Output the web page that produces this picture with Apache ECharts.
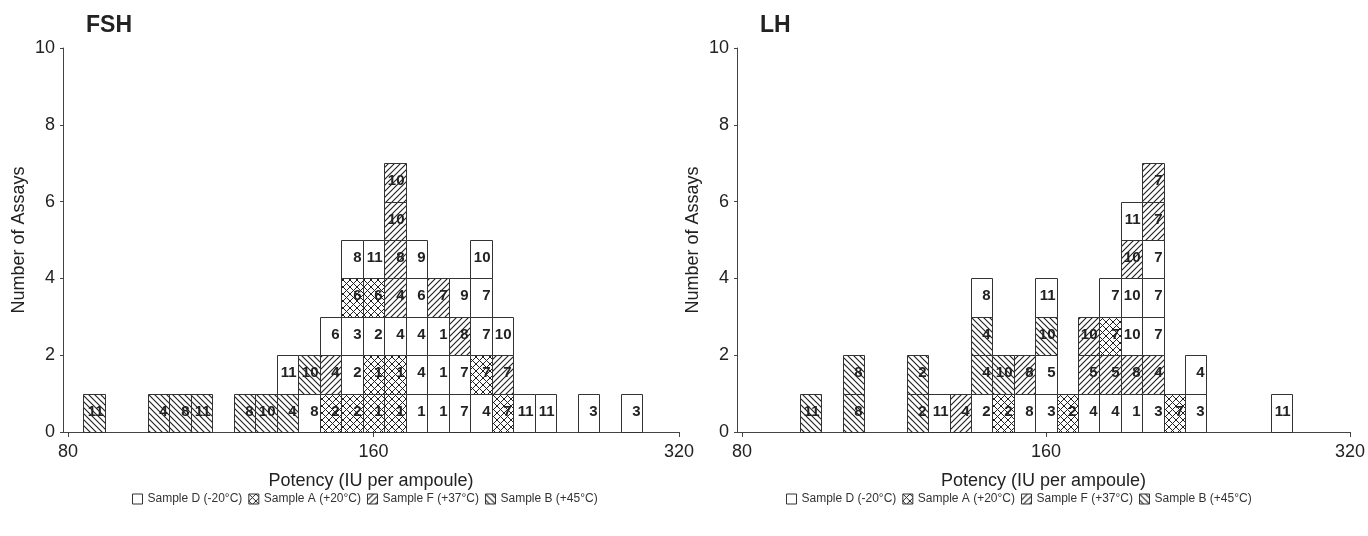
<!DOCTYPE html>
<html>
<head>
<meta charset="utf-8">
<script src="https://cdn.jsdelivr.net/npm/echarts@6/dist/echarts.min.js"></script>
<style>
html,body{margin:0;padding:0;background:#fff;}
#chart{width:1368px;height:536px;}
</style>
</head>
<body>
<div id="chart"></div>
<script>
// ---------- data ----------
const SAMPLE_CODES = ['D', 'A', 'F', 'B'];
const SAMPLE_NAMES = ['Sample D (-20°C)', 'Sample A (+20°C)', 'Sample F (+37°C)', 'Sample B (+45°C)'];
const X_TICKS = [80, 160, 320];          // IU per ampoule
const Y_MAX = 10;
const BIN_RATIO = 1.05;                  // width of a potency bin (ratio)
const FIRST_EDGE = 82.8;                 // lower edge of bin 0 (IU per ampoule)

// FSH: bin index and stacked assays (bottom -> top), code = sample + assay number
const FSH_BINS = [0, 3, 4, 5, 7, 8, 9, 10, 11, 12, 13, 14, 15, 16, 17, 18, 19, 20, 21, 23, 25];
const FSH_STACKS = [
  ['B11'], ['B4'], ['B8'], ['B11'], ['B8'], ['B10'], ['B4', 'D11'], ['D8', 'B10'],
  ['A2', 'F4', 'D6'], ['A2', 'D2', 'D3', 'A6', 'D8'], ['A1', 'A1', 'D2', 'A6', 'D11'],
  ['A1', 'A1', 'D4', 'F4', 'F8', 'F10', 'F10'], ['D1', 'D4', 'D4', 'D6', 'D9'],
  ['D1', 'D1', 'D1', 'F7'], ['D7', 'D7', 'F8', 'D9'], ['D4', 'A7', 'D7', 'D7', 'D10'],
  ['A7', 'F7', 'D10'], ['D11'], ['D11'], ['D3'], ['D3']
];
// LH
const LH_BINS = [2, 4, 7, 8, 9, 10, 11, 12, 13, 14, 15, 16, 17, 18, 19, 20, 24];
const LH_STACKS = [
  ['B11'], ['B8', 'B8'], ['B2', 'B2'], ['D11'], ['F4'], ['D2', 'B4', 'B4', 'D8'],
  ['A2', 'B10'], ['D8', 'F8'], ['D3', 'D5', 'B10', 'D11'], ['A2'], ['D4', 'F5', 'F10'],
  ['D4', 'F5', 'A7', 'D7'], ['D1', 'F8', 'D10', 'D10', 'F10', 'D11'],
  ['D3', 'F4', 'D7', 'D7', 'D7', 'F7', 'F7'], ['A7'], ['D3', 'D4'], ['D11']
];

// ---------- patterns ----------
function makePattern(kind) {
  if (kind === 'D') return '#fff';
  const s = kind === 'A' ? 7 : 6;
  const c = document.createElement('canvas');
  c.width = s; c.height = s;
  const g = c.getContext('2d');
  g.fillStyle = '#fff';
  g.fillRect(0, 0, s, s);
  g.strokeStyle = '#222';
  g.lineWidth = kind === 'A' ? 1.0 : 1.15;
  function fwd() { // "/"
    g.beginPath();
    g.moveTo(-1, s + 1); g.lineTo(s + 1, -1);
    g.moveTo(-1, 1); g.lineTo(1, -1);
    g.moveTo(s - 1, s + 1); g.lineTo(s + 1, s - 1);
    g.stroke();
  }
  function back() { // "\"
    g.beginPath();
    g.moveTo(-1, -1); g.lineTo(s + 1, s + 1);
    g.moveTo(s - 1, -1); g.lineTo(s + 1, 1);
    g.moveTo(-1, s - 1); g.lineTo(1, s + 1);
    g.stroke();
  }
  if (kind === 'F') fwd();
  if (kind === 'B') back();
  if (kind === 'A') { fwd(); back(); }
  return { image: c, repeat: 'repeat' };
}
const FILLS = {};
SAMPLE_CODES.forEach(k => { FILLS[k] = makePattern(k); });

// ---------- helpers ----------
const L2 = v => Math.log(v) / Math.LN2;
const X0 = L2(FIRST_EDGE / X_TICKS[0]);
const BW = L2(BIN_RATIO);
const FONT = "'Liberation Sans', Arial, sans-serif";

function buildSeries(bins, stacks, axisIndex) {
  const out = [];
  SAMPLE_CODES.forEach((code, si) => {
    const data = [];
    const labels = [];
    bins.forEach((bin, i) => {
      stacks[i].forEach((item, level) => {
        if (item[0] === code) {
          data.push([X0 + bin * BW, level, X0 + (bin + 1) * BW]);
          labels.push(item.slice(1));
        }
      });
    });
    out.push({
      type: 'custom',
      name: SAMPLE_NAMES[si],
      xAxisIndex: axisIndex,
      yAxisIndex: axisIndex,
      itemStyle: { color: FILLS[code], borderColor: '#333', borderWidth: 1 },
      data: data,
      renderItem: function (params, api) {
        const a = api.coord([api.value(0), api.value(1)]);
        const b = api.coord([api.value(2), api.value(1) + 1]);
        const x = Math.round(a[0]) + 0.5, x2 = Math.round(b[0]) + 0.5;
        const y = Math.round(b[1]) + 0.5, y2 = Math.round(a[1]) + 0.5;
        return {
          type: 'group',
          children: [
            { type: 'rect', shape: { x: x, y: y, width: x2 - x, height: y2 - y },
              style: { fill: FILLS[code], stroke: '#333', lineWidth: 1 } },
            { type: 'text', style: { text: labels[params.dataIndex], x: x2 - 2, y: (y + y2) / 2 - 2,
              align: 'right', verticalAlign: 'middle', fill: '#222',
              font: 'bold 15px ' + FONT } }
          ]
        };
      }
    });
  });
  return out;
}

const tickPos = X_TICKS.map(t => L2(t / X_TICKS[0]));

function xAxis(gridIndex) {
  return {
    type: 'value', gridIndex: gridIndex,
    min: -0.0164, max: tickPos[tickPos.length - 1],
    name: 'Potency (IU per ampoule)', nameLocation: 'middle', nameGap: 40,
    nameTextStyle: { fontSize: 18, color: '#222', fontFamily: FONT },
    axisLine: { onZero: false, lineStyle: { color: '#444', width: 1 } },
    axisTick: { show: true, length: 5, customValues: tickPos, lineStyle: { color: '#444' } },
    axisLabel: { customValues: tickPos, fontSize: 18, color: '#222', margin: 11, fontFamily: FONT,
      formatter: v => String(Math.round(X_TICKS[0] * Math.pow(2, v))) },
    splitLine: { show: false }
  };
}
function yAxis(gridIndex) {
  return {
    type: 'value', gridIndex: gridIndex, min: 0, max: Y_MAX, interval: 2,
    name: 'Number of Assays', nameLocation: 'middle', nameGap: 35,
    nameTextStyle: { fontSize: 18, color: '#222', fontFamily: FONT },
    axisLine: { show: true, onZero: false, lineStyle: { color: '#444', width: 1 } },
    axisTick: { show: true, length: 3, lineStyle: { color: '#444' } },
    axisLabel: { fontSize: 18, color: '#222', margin: 8, fontFamily: FONT },
    splitLine: { show: false }
  };
}
function legend(left) {
  return {
    left: left, top: 488, itemWidth: 10, itemHeight: 10, itemGap: 6,
    icon: 'rect', selectedMode: false,
    textStyle: { fontSize: 12, color: '#333', fontFamily: FONT },
    data: SAMPLE_NAMES.map((n, i) => ({
      name: n, itemStyle: { color: FILLS[SAMPLE_CODES[i]], borderColor: '#333', borderWidth: 1 }
    }))
  };
}

const chart = echarts.init(document.getElementById('chart'), null, { renderer: 'canvas' });
chart.setOption({
  animation: false,
  backgroundColor: '#fff',
  title: [
    { text: 'FSH', left: 81, top: 9, textStyle: { fontSize: 23, fontWeight: 'bold', color: '#222', fontFamily: FONT } },
    { text: 'LH', left: 755, top: 9, textStyle: { fontSize: 23, fontWeight: 'bold', color: '#222', fontFamily: FONT } }
  ],
  grid: [
    { left: 63, right: 689, top: 48, bottom: 104 },
    { left: 737, right: 18, top: 48, bottom: 104 }
  ],
  legend: [legend(127), legend(781)],
  xAxis: [xAxis(0), xAxis(1)],
  yAxis: [yAxis(0), yAxis(1)],
  series: buildSeries(FSH_BINS, FSH_STACKS, 0).concat(buildSeries(LH_BINS, LH_STACKS, 1))
});
</script>
</body>
</html>
